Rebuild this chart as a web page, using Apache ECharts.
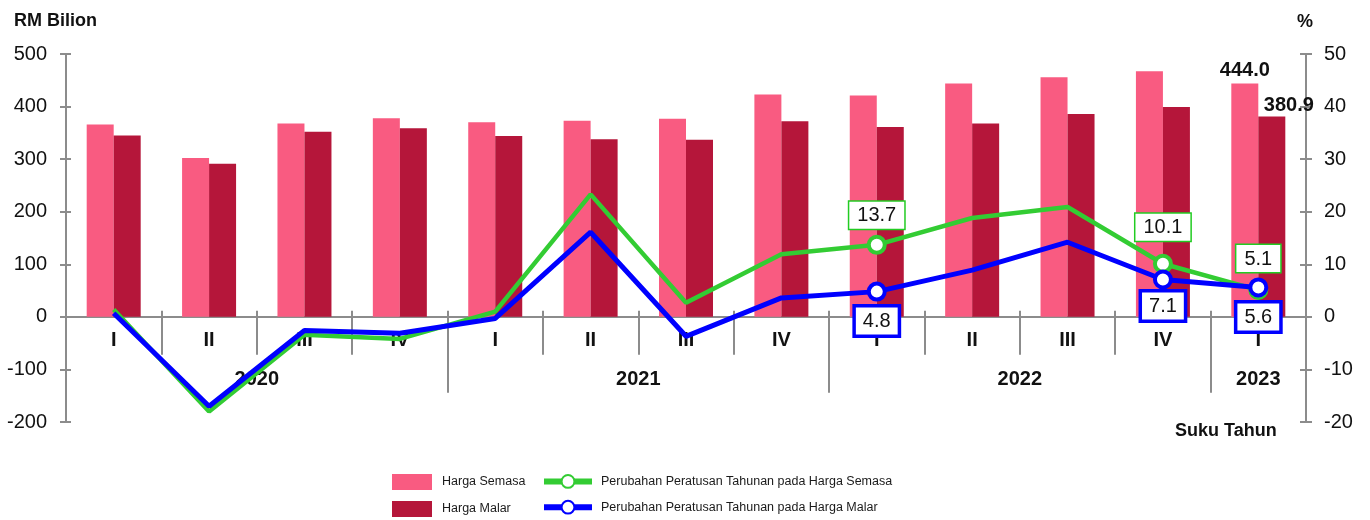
<!DOCTYPE html>
<html><head><meta charset="utf-8">
<script src="https://cdn.jsdelivr.net/npm/echarts@6/dist/echarts.min.js"></script>
<style>html,body{margin:0;padding:0;background:#fff}#c{width:1370px;height:520px}</style>
</head><body><div id="c"></div>
<script>
// ---- data ----
const quarters = ['I','II','III','IV','I','II','III','IV','I','II','III','IV','I'];
const years = ['2020','2021','2022','2023'];
const quartersPerYear = [4, 4, 4, 1];
const hargaSemasa = [366, 302, 368, 378, 370, 373, 377, 423, 421, 444, 456, 467, 444.0];
const hargaMalar  = [345, 291, 352, 359, 344, 338, 337, 372, 361, 368, 386, 399, 380.9];
const pctSemasa = [1.4, -18.0, -3.4, -4.2, 1.0, 23.3, 2.7, 11.9, 13.7, 18.8, 20.9, 10.1, 5.1];
const pctMalar  = [0.7, -17.0, -2.6, -3.1, -0.3, 16.1, -3.7, 3.6, 4.8, 8.9, 14.2, 7.1, 5.6];
const leftAxisTicks = [-200, -100, 0, 100, 200, 300, 400, 500];
const rightAxisTicks = [-20, -10, 0, 10, 20, 30, 40, 50];
const seriesNames = ['Harga Semasa', 'Harga Malar',
  'Perubahan Peratusan Tahunan pada Harga Semasa', 'Perubahan Peratusan Tahunan pada Harga Malar'];
const labelledPoints = [8, 11, 12];

// ---- build helpers ----
const FONT = 'Liberation Sans, Arial, sans-serif';
const AX = '#8c8c8c';
const lastIdx = quarters.length - 1;
const lMin = leftAxisTicks[0], lMax = leftAxisTicks[leftAxisTicks.length - 1];
const rMin = rightAxisTicks[0], rMax = rightAxisTicks[rightAxisTicks.length - 1];

// grid geometry
const G = { left: 66, right: 64, top: 54, bottom: 98 };
const plotH = 520 - G.top - G.bottom;
const zeroY = G.top + plotH * lMax / (lMax - lMin);

// year axis: half-quarter slots (boundaryGap false, 2*n+1 slots)
const yearSlots = new Array(quarters.length * 2 + 1).fill('');
const yearSeparators = new Set();
let start = 0;
years.forEach((y, k) => {
  yearSlots[start * 2 + quartersPerYear[k]] = y;
  if (k > 0) yearSeparators.add(start * 2);
  start += quartersPerYear[k];
});

function barData(vals, labelOpt) {
  return vals.map((v, i) => i === lastIdx
    ? { value: v, label: Object.assign({ show: true, position: 'top', fontFamily: FONT, fontSize: 20,
        fontWeight: 'bold', color: '#111', formatter: p => p.value.toFixed(1) }, labelOpt) }
    : v);
}
const greenDist = { 8: 6, 11: 13, 12: 8 };
const blueDist = { 8: 6, 11: 3, 12: 6 };
function lineData(vals, dist, pos) {
  return vals.map((v, i) => labelledPoints.includes(i)
    ? { value: v, symbol: 'circle', label: { show: true, position: pos, distance: dist[i] } }
    : { value: v, symbol: 'none' });
}
const boxLabel = (border, bw, pad) => ({
  show: false, fontFamily: FONT, fontSize: 20, color: '#111', backgroundColor: '#fff',
  borderColor: border, borderWidth: bw, padding: pad, formatter: p => p.value.toFixed(1)
});
const legendText = { fontFamily: FONT, fontSize: 12.5, color: '#1a1a1a' };

const chart = echarts.init(document.getElementById('c'), null, { renderer: 'canvas' });
chart.setOption({
  animation: false,
  backgroundColor: '#fff',
  textStyle: { fontFamily: FONT },
  title: [
    { text: 'RM Bilion', left: 14, top: 12, padding: 0, textStyle: { fontFamily: FONT, fontSize: 18, fontWeight: 'bold', color: '#111' } },
    { text: '%', left: 1297, top: 13, padding: 0, textStyle: { fontFamily: FONT, fontSize: 18, fontWeight: 'bold', color: '#111' } },
    { text: 'Suku Tahun', left: 1175, top: 422, padding: 0, textStyle: { fontFamily: FONT, fontSize: 18, fontWeight: 'bold', color: '#111' } }
  ],
  legend: [
    { data: [{ name: seriesNames[0], icon: 'rect' }, { name: seriesNames[1], icon: 'rect' }],
      orient: 'vertical', left: 392, top: 474, height: 60, padding: 0,
      itemWidth: 40, itemHeight: 16, itemGap: 11, textStyle: Object.assign({ padding: [0, 0, 0, 5] }, legendText) },
    { data: [seriesNames[2], seriesNames[3]], orient: 'vertical', left: 541, top: 474, height: 60, padding: 0,
      itemWidth: 48, itemHeight: 16, itemGap: 11, lineStyle: { width: 6 },
      textStyle: Object.assign({ padding: [0, 0, 0, 4] }, legendText) }
  ],
  grid: [
    { left: G.left, right: G.right, top: G.top, bottom: G.bottom, containLabel: false },
    { left: G.left, right: G.right, top: G.top, bottom: 520 - zeroY, containLabel: false }
  ],
  xAxis: [
    { type: 'category', gridIndex: 0, data: quarters, show: false },
    { type: 'category', gridIndex: 1, data: quarters, position: 'bottom',
      axisLine: { show: true, onZero: false, lineStyle: { color: AX, width: 2 } },
      axisTick: { show: true, interval: 0, length: 38, lineStyle: { color: AX, width: 2 } },
      axisLabel: { interval: 0, margin: 14, fontFamily: FONT, fontSize: 20, fontWeight: 'bold', color: '#111' },
      splitLine: { show: false } },
    { type: 'category', gridIndex: 1, data: yearSlots, boundaryGap: false, position: 'bottom',
      axisLine: { show: false, onZero: false },
      axisTick: { show: true, interval: i => yearSeparators.has(i), length: 76, lineStyle: { color: AX, width: 2 } },
      axisLabel: { interval: 0, margin: 53, fontFamily: FONT, fontSize: 20, fontWeight: 'bold', color: '#111' },
      splitLine: { show: false } },
    { type: 'category', gridIndex: 1, data: quarters, position: 'bottom',
      axisLine: { show: false, onZero: false },
      axisTick: { show: true, inside: true, interval: 0, length: 6, lineStyle: { color: AX, width: 2 } },
      axisLabel: { show: false }, splitLine: { show: false } }
  ],
  yAxis: [
    { type: 'value', gridIndex: 0, position: 'left', min: lMin, max: lMax, interval: leftAxisTicks[1] - leftAxisTicks[0],
      axisLine: { show: true, lineStyle: { color: AX, width: 2 } },
      axisTick: { show: true, length: 6, lineStyle: { color: AX, width: 2 } },
      axisLabel: { margin: 19, fontFamily: FONT, fontSize: 20, color: '#111' },
      splitLine: { show: false } },
    { type: 'value', gridIndex: 0, position: 'right', min: rMin, max: rMax, interval: rightAxisTicks[1] - rightAxisTicks[0],
      axisLine: { show: true, lineStyle: { color: AX, width: 2 } },
      axisTick: { show: true, length: 6, lineStyle: { color: AX, width: 2 } },
      axisLabel: { margin: 18, fontFamily: FONT, fontSize: 20, color: '#111' },
      splitLine: { show: false } },
    { type: 'value', gridIndex: 0, position: 'left', min: lMin, max: lMax, interval: leftAxisTicks[1] - leftAxisTicks[0],
      axisLine: { show: false }, axisTick: { show: true, inside: true, length: 5, lineStyle: { color: AX, width: 2 } },
      axisLabel: { show: false }, splitLine: { show: false } },
    { type: 'value', gridIndex: 0, position: 'right', min: rMin, max: rMax, interval: rightAxisTicks[1] - rightAxisTicks[0],
      axisLine: { show: false }, axisTick: { show: true, inside: true, length: 6, lineStyle: { color: AX, width: 2 } },
      axisLabel: { show: false }, splitLine: { show: false } },
    { type: 'value', gridIndex: 1, show: false, min: 0, max: lMax }
  ],
  series: [
    { name: seriesNames[0], type: 'bar', xAxisIndex: 0, yAxisIndex: 0, barWidth: 27, barGap: '0%',
      itemStyle: { color: '#F95B81' }, data: barData(hargaSemasa, { distance: 3 }) },
    { name: seriesNames[1], type: 'bar', xAxisIndex: 0, yAxisIndex: 0, barWidth: 27, barGap: '0%',
      itemStyle: { color: '#B5163A' }, data: barData(hargaMalar, { distance: 1, offset: [17, 0] }) },
    { name: seriesNames[2], type: 'line', xAxisIndex: 0, yAxisIndex: 1, z: 5,
      symbol: 'circle', symbolSize: 16, lineStyle: { color: '#33CC33', width: 4.5 },
      itemStyle: { color: '#fff', borderColor: '#33CC33', borderWidth: 4 },
      label: boxLabel('#22CC22', 1.5, [4, 8, 3, 8]),
      data: lineData(pctSemasa, greenDist, 'top') },
    { name: seriesNames[3], type: 'line', xAxisIndex: 0, yAxisIndex: 1, z: 6,
      symbol: 'circle', symbolSize: 16, lineStyle: { color: '#0000FF', width: 5 },
      itemStyle: { color: '#fff', borderColor: '#0000FF', borderWidth: 4 },
      label: boxLabel('#0000FF', 3.5, [4, 7, 3, 7]),
      data: lineData(pctMalar, blueDist, 'bottom') }
  ]
});
</script></body></html>
